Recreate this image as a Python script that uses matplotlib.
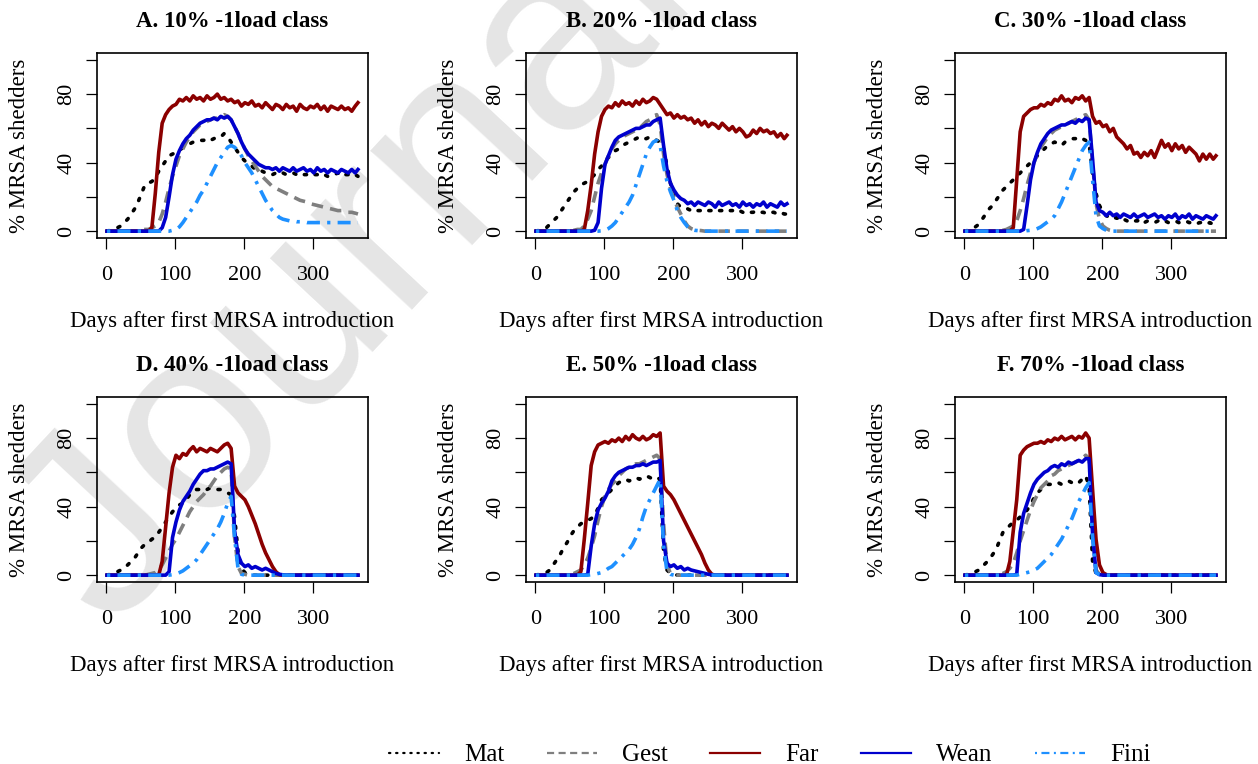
import matplotlib.pyplot as plt
from matplotlib.lines import Line2D

# day grid (every 5 days, plus the last day)
DAYS = list(range(1, 362, 5)) + [365]

TITLES = ["A. 10% -1load class", "B. 20% -1load class", "C. 30% -1load class",
          "D. 40% -1load class", "E. 50% -1load class", "F. 70% -1load class"]
SERIES_NAMES = ["Mat", "Gest", "Far", "Wean", "Fini"]
X_TICKS = [0, 100, 200, 300]
Y_TICKS = [0, 20, 40, 60, 80, 100]
Y_TICK_LABELS = ["0", "", "40", "", "80", ""]

# --- A. 10% ---
MAT_A = [0, 0.5, 1, 2, 3, 5, 7, 10, 13, 17, 22, 27, 28, 29, 31, 35, 38, 41, 44, 45,
         46, 47, 49, 50, 51, 52, 52, 53, 53, 54, 53, 54, 55, 55, 57, 55, 52, 49, 46, 43,
         41, 39, 38, 36, 35, 35, 34, 34, 33, 34, 33, 34, 33, 33, 34, 33, 34, 33, 33, 34,
         33, 33, 34, 33, 32, 33, 33, 34, 32, 33, 33, 32, 33, 32]
GEST_A = [0, 0, 0, 0, 0, 0, 0, 0, 0, 0, 0.5, 1, 1, 2, 3, 5, 10, 17, 25, 32,
          38, 44, 48, 52, 55, 58, 60, 62, 63, 64, 65, 66, 66, 67, 68, 67, 65, 61, 57, 52,
          48, 44, 41, 38, 35, 32, 30, 28, 26, 25, 24, 23, 22, 21, 20, 19, 18, 17.5, 17, 16,
          15.5, 15, 14.5, 14, 13.5, 13, 12.5, 12, 12, 11.5, 11, 11, 10.5, 10]
FAR_A = [0, 0, 0, 0, 0, 0, 0, 0, 0, 0, 0, 0, 0, 2, 22, 46, 63, 68, 71, 73,
         74, 77, 76, 78, 76, 79, 77, 78, 76, 79, 77, 78, 80, 77, 78, 76, 77, 75, 76, 73,
         75, 74, 76, 73, 74, 72, 75, 73, 71, 74, 73, 71, 74, 72, 73, 70, 74, 72, 71, 73,
         72, 74, 71, 73, 70, 73, 72, 71, 73, 71, 72, 70, 73, 75]
WEAN_A = [0, 0, 0, 0, 0, 0, 0, 0, 0, 0, 0, 0, 0, 0, 0, 0, 2, 8, 20, 33,
          42, 47, 51, 54, 56, 59, 61, 63, 64, 65, 65, 66, 65, 67, 66, 67, 65, 61, 57, 52,
          48, 45, 43, 41, 39, 38, 37, 37, 36, 37, 35, 37, 36, 35, 37, 35, 36, 37, 35, 36,
          34, 37, 35, 36, 34, 36, 35, 34, 36, 35, 34, 36, 34, 36]
FINI_A = [0, 0, 0, 0, 0, 0, 0, 0, 0, 0, 0, 0, 0, 0, 0, 0, 0, 0, 0, 0.5,
          1, 2.5, 5, 8, 11, 14, 17, 21, 24, 28, 32, 36, 40, 43, 46, 49, 50, 49, 47, 44,
          40, 37, 34, 30, 26, 22, 18, 15, 12, 10, 8, 7, 6.5, 6, 6, 5.5, 5.5, 5.5, 5, 5,
          5, 5, 5, 5, 5, 5, 5, 5, 5, 5, 5, 5, 5, 5]

# --- B. 20% ---
MAT_B = [0, 0.5, 1, 2, 4, 6, 8, 11, 14, 17, 20, 23, 25, 27, 28, 29, 31, 33, 36, 38,
         41, 43, 45, 47, 48, 50, 51, 52, 53, 54, 55, 54, 54, 55, 54, 53, 52, 48, 38, 28,
         20, 16, 14, 13, 13, 12, 13, 12, 12, 13, 12, 12, 11, 12, 12, 11, 12, 12, 11, 12,
         11, 12, 11, 11, 12, 11, 11, 10, 11, 11, 10, 11, 10, 10]
GEST_B = [0, 0, 0, 0, 0, 0, 0, 0, 0, 0, 0, 0.5, 1, 1, 3, 7, 12, 20, 28, 34,
          39, 44, 48, 51, 53, 55, 56, 57, 58, 59, 60, 62, 64, 65, 67, 68, 62, 45, 33, 25,
          19, 14, 10, 6, 3, 1.5, 0.8, 0.5, 0.3, 0, 0, 0, 0, 0, 0, 0, 0, 0, 0, 0,
          0, 0, 0, 0, 0, 0, 0, 0, 0, 0, 0, 0, 0, 0]
FAR_B = [0, 0, 0, 0, 0, 0, 0, 0, 0, 0, 0, 0, 0, 0, 1, 12, 27, 45, 58, 67,
         71, 73, 72, 75, 73, 76, 74, 75, 73, 76, 74, 77, 75, 76, 78, 77, 74, 71, 68, 69,
         66, 68, 66, 67, 65, 66, 63, 65, 62, 64, 61, 63, 62, 60, 63, 61, 59, 61, 58, 60,
         58, 55, 56, 59, 57, 60, 58, 59, 57, 58, 55, 57, 54, 56]
WEAN_B = [0, 0, 0, 0, 0, 0, 0, 0, 0, 0, 0, 0, 0, 0, 0, 0, 0, 0.5, 5, 25,
          39, 44, 49, 53, 55, 56, 57, 58, 59, 60, 60, 61, 62, 62, 64, 65, 66, 50, 36, 28,
          24, 21, 19, 18, 16, 17, 15, 17, 16, 15, 17, 16, 14, 17, 15, 16, 17, 15, 16, 14,
          17, 15, 16, 14, 16, 15, 17, 14, 16, 15, 14, 17, 15, 16]
FINI_B = [0, 0, 0, 0, 0, 0, 0, 0, 0, 0, 0, 0, 0, 0, 0, 0, 0, 0, 0, 0.2,
          0.5, 1.5, 3, 5, 8, 11, 14, 17, 21, 27, 33, 39, 45, 49, 52, 53, 50, 38, 29, 23,
          18, 12, 8, 5, 2.5, 1, 0.5, 0.3, 0, 0, 0, 0, 0, 0, 0, 0, 0, 0, 0, 0,
          0, 0, 0, 0, 0, 0, 0, 0, 0, 0, 0, 0, 0, 0]

# --- C. 30% ---
MAT_C = [0, 0.5, 1, 2.5, 4, 7, 10, 13, 15, 18, 21, 24, 26, 28, 30, 32, 34, 36, 38, 40,
         42, 44, 46, 48, 50, 51, 52, 51, 50, 52, 53, 54, 54, 55, 54, 53, 51, 34, 22, 15,
         11, 9, 8, 7, 8, 6, 7, 6, 7, 6, 6, 7, 5, 6, 6, 5, 6, 5, 6, 5,
         5, 6, 5, 5, 6, 5, 5, 4, 5, 5, 4, 5, 4, 5]
GEST_C = [0, 0, 0, 0, 0, 0, 0, 0, 0, 0, 0, 0.5, 1, 2, 3, 6, 12, 19, 27, 34,
          40, 45, 49, 52, 55, 57, 59, 60, 61, 62, 63, 64, 65, 66, 67, 68, 65, 40, 16, 7,
          3, 1.5, 0.5, 0, 0, 0, 0, 0, 0, 0, 0, 0, 0, 0, 0, 0, 0, 0, 0, 0,
          0, 0, 0, 0, 0, 0, 0, 0, 0, 0, 0, 0, 0, 0]
FAR_C = [0, 0, 0, 0, 0, 0, 0, 0, 0, 0, 0, 0, 0, 0, 2, 30, 58, 67, 69, 71,
         72, 72, 74, 73, 75, 74, 77, 76, 79, 76, 77, 75, 78, 77, 79, 76, 78, 67, 63, 64,
         61, 62, 58, 60, 55, 53, 51, 48, 50, 45, 46, 43, 46, 44, 47, 43, 48, 53, 49, 51,
         47, 51, 48, 50, 46, 49, 47, 45, 41, 45, 42, 45, 42, 44]
WEAN_C = [0, 0, 0, 0, 0, 0, 0, 0, 0, 0, 0, 0, 0, 0, 0, 0, 0, 1, 15, 30,
          40, 46, 51, 54, 57, 59, 60, 61, 62, 62, 63, 64, 63, 65, 64, 66, 65, 42, 17, 12,
          11, 9, 11, 9, 10, 8, 10, 9, 8, 10, 8, 9, 10, 8, 9, 10, 8, 9, 7, 9,
          8, 10, 7, 9, 8, 10, 7, 9, 8, 7, 9, 8, 7, 9]
FINI_C = [0, 0, 0, 0, 0, 0, 0, 0, 0, 0, 0, 0, 0, 0, 0, 0, 0, 0, 0.3, 0.5,
          0.7, 1.5, 2.5, 4, 5.5, 7, 9, 13, 17, 22, 27, 32, 37, 42, 47, 50, 52, 30, 9, 3,
          1.5, 0.5, 0, 0, 0, 0, 0, 0, 0, 0, 0, 0, 0, 0, 0, 0, 0, 0, 0, 0,
          0, 0, 0, 0, 0, 0, 0, 0, 0, 0, 0, 0, 0, 0]

# --- D. 40% ---
MAT_D = [0, 0.5, 1, 2, 3, 4, 6, 8, 10, 13, 16, 18, 19, 21, 22, 25, 28, 31, 34, 37,
         39, 41, 42, 44, 47, 49, 50, 50, 51, 50, 51, 51, 50, 50, 49, 48, 47, 34, 14, 4,
         1.5, 0.5, 0, 0, 0, 0, 0, 0, 0, 0, 0, 0, 0, 0, 0, 0, 0, 0, 0, 0,
         0, 0, 0, 0, 0, 0, 0, 0, 0, 0, 0, 0, 0, 0]
GEST_D = [0, 0, 0, 0, 0, 0, 0, 0, 0, 0, 0, 0, 0.5, 1, 1.5, 3, 6, 10, 14, 18,
          21, 25, 29, 33, 37, 40, 43, 45, 47, 50, 52, 55, 58, 60, 62, 63, 62, 22, 5, 1,
          0.5, 0, 0, 0, 0, 0, 0, 0, 0, 0, 0, 0, 0, 0, 0, 0, 0, 0, 0, 0,
          0, 0, 0, 0, 0, 0, 0, 0, 0, 0, 0, 0, 0, 0]
FAR_D = [0, 0, 0, 0, 0, 0, 0, 0, 0, 0, 0, 0, 0, 0, 0, 0, 8, 28, 48, 63,
         70, 68, 71, 70, 73, 75, 72, 74, 73, 72, 74, 73, 72, 74, 76, 77, 74, 52, 48, 46,
         44, 40, 35, 30, 24, 18, 13, 9, 5, 2, 0.3, 0, 0, 0, 0, 0, 0, 0, 0, 0,
         0, 0, 0, 0, 0, 0, 0, 0, 0, 0, 0, 0, 0, 0]
WEAN_D = [0, 0, 0, 0, 0, 0, 0, 0, 0, 0, 0, 0, 0, 0, 0, 0, 0, 0, 2, 22,
          31, 38, 43, 46, 49, 53, 56, 59, 61, 61, 62, 62, 63, 64, 65, 66, 65, 26, 12, 7,
          5, 6, 4, 5, 4, 3, 4, 3, 2, 1, 0.5, 0.2, 0, 0, 0, 0, 0, 0, 0, 0,
          0, 0, 0, 0, 0, 0, 0, 0, 0, 0, 0, 0, 0, 0]
FINI_D = [0, 0, 0, 0, 0, 0, 0, 0, 0, 0, 0, 0, 0, 0, 0, 0, 0, 0, 0, 0.3,
          0.7, 1.5, 2.5, 4, 5.5, 7, 9, 12, 15, 18, 21, 24, 27, 31, 36, 42, 46, 22, 4, 0.5,
          0, 0, 0, 0, 0, 0, 0, 0, 0, 0, 0, 0, 0, 0, 0, 0, 0, 0, 0, 0,
          0, 0, 0, 0, 0, 0, 0, 0, 0, 0, 0, 0, 0, 0]

# --- E. 50% ---
MAT_E = [0, 0.5, 1, 1.5, 3, 6, 9, 12, 16, 19, 23, 26, 28, 30, 31, 32, 33, 35, 39, 44,
         46, 48, 50, 52, 54, 55, 56, 55, 56, 57, 56, 57, 58, 57, 56, 57, 56, 14, 3, 1,
         0.5, 0, 0, 0, 0, 0, 0, 0, 0, 0, 0, 0, 0, 0, 0, 0, 0, 0, 0, 0,
         0, 0, 0, 0, 0, 0, 0, 0, 0, 0, 0, 0, 0, 0]
GEST_E = [0, 0, 0, 0, 0, 0, 0, 0, 0, 0, 0.5, 1, 2, 3, 6, 10, 16, 23, 32, 40,
          46, 50, 53, 55, 58, 60, 62, 63, 64, 65, 65, 66, 67, 68, 69, 70, 68, 30, 6, 1,
          0.3, 0, 0, 0, 0, 0, 0, 0, 0, 0, 0, 0, 0, 0, 0, 0, 0, 0, 0, 0,
          0, 0, 0, 0, 0, 0, 0, 0, 0, 0, 0, 0, 0, 0]
FAR_E = [0, 0, 0, 0, 0, 0, 0, 0, 0, 0, 0, 0, 0, 2, 21, 42, 64, 72, 76, 77,
         78, 77, 79, 78, 80, 78, 81, 79, 82, 80, 79, 81, 79, 80, 82, 81, 83, 52, 49, 47,
         44, 40, 36, 32, 28, 24, 20, 16, 12, 7, 3, 0.5, 0, 0, 0, 0, 0, 0, 0, 0,
         0, 0, 0, 0, 0, 0, 0, 0, 0, 0, 0, 0, 0, 0]
WEAN_E = [0, 0, 0, 0, 0, 0, 0, 0, 0, 0, 0, 0, 0, 0, 0, 0.5, 17, 30, 38, 42,
          45, 49, 55, 58, 60, 61, 62, 63, 63, 64, 64, 65, 64, 65, 66, 66, 67, 20, 7, 5,
          6, 4, 5, 3, 4, 3, 2.5, 2, 1.5, 1, 0.5, 0.2, 0, 0, 0, 0, 0, 0, 0, 0,
          0, 0, 0, 0, 0, 0, 0, 0, 0, 0, 0, 0, 0, 0]
FINI_E = [0, 0, 0, 0, 0, 0, 0, 0, 0, 0, 0, 0, 0, 0, 0, 0, 0.3, 0.5, 1, 1.5,
          2.5, 4, 5, 7, 9, 11, 13, 15, 18, 22, 27, 34, 40, 44, 48, 52, 56, 17, 2, 0.5,
          0, 0, 0, 0, 0, 0, 0, 0, 0, 0, 0, 0, 0, 0, 0, 0, 0, 0, 0, 0,
          0, 0, 0, 0, 0, 0, 0, 0, 0, 0, 0, 0, 0, 0]

# --- F. 70% ---
MAT_F = [0, 0.5, 1, 2, 3, 5, 7, 9, 12, 15, 20, 25, 27, 29, 31, 32, 34, 36, 38, 41,
         45, 48, 50, 52, 53, 53, 54, 54, 53, 54, 55, 54, 55, 54, 56, 58, 52, 8, 1, 0.3,
         0, 0, 0, 0, 0, 0, 0, 0, 0, 0, 0, 0, 0, 0, 0, 0, 0, 0, 0, 0,
         0, 0, 0, 0, 0, 0, 0, 0, 0, 0, 0, 0, 0, 0]
GEST_F = [0, 0, 0, 0, 0, 0, 0, 0, 0, 0, 0.5, 1, 2, 4, 7, 13, 20, 26, 32, 38,
          43, 47, 51, 53, 55, 58, 59, 61, 62, 63, 64, 65, 66, 67, 68, 70, 68, 28, 3, 0.5,
          0, 0, 0, 0, 0, 0, 0, 0, 0, 0, 0, 0, 0, 0, 0, 0, 0, 0, 0, 0,
          0, 0, 0, 0, 0, 0, 0, 0, 0, 0, 0, 0, 0, 0]
FAR_F = [0, 0, 0, 0, 0, 0, 0, 0, 0, 0, 0, 0, 0, 8, 26, 44, 70, 73, 75, 76,
         77, 77, 78, 77, 79, 78, 80, 79, 81, 79, 80, 81, 79, 81, 80, 83, 80, 50, 21, 6,
         1.5, 0.3, 0, 0, 0, 0, 0, 0, 0, 0, 0, 0, 0, 0, 0, 0, 0, 0, 0, 0,
         0, 0, 0, 0, 0, 0, 0, 0, 0, 0, 0, 0, 0, 0]
WEAN_F = [0, 0, 0, 0, 0, 0, 0, 0, 0, 0, 0, 0, 0, 0, 0, 0.5, 25, 36, 42, 48,
          53, 56, 58, 60, 61, 63, 64, 63, 65, 64, 66, 65, 66, 67, 66, 68, 68, 24, 1.5, 0.3,
          0, 0, 0, 0, 0, 0, 0, 0, 0, 0, 0, 0, 0, 0, 0, 0, 0, 0, 0, 0,
          0, 0, 0, 0, 0, 0, 0, 0, 0, 0, 0, 0, 0, 0]
FINI_F = [0, 0, 0, 0, 0, 0, 0, 0, 0, 0, 0, 0, 0, 0, 0, 0, 0.5, 1, 1.5, 2,
          3, 4, 6, 8, 10, 12, 15, 18, 21, 25, 29, 33, 38, 43, 47, 51, 54, 22, 1.5, 0.3,
          0, 0, 0, 0, 0, 0, 0, 0, 0, 0, 0, 0, 0, 0, 0, 0, 0, 0, 0, 0,
          0, 0, 0, 0, 0, 0, 0, 0, 0, 0, 0, 0, 0, 0]

PANELS = [
    (MAT_A, GEST_A, FAR_A, WEAN_A, FINI_A),
    (MAT_B, GEST_B, FAR_B, WEAN_B, FINI_B),
    (MAT_C, GEST_C, FAR_C, WEAN_C, FINI_C),
    (MAT_D, GEST_D, FAR_D, WEAN_D, FINI_D),
    (MAT_E, GEST_E, FAR_E, WEAN_E, FINI_E),
    (MAT_F, GEST_F, FAR_F, WEAN_F, FINI_F),
]

# line styles like R: lty 3, 2, 1, 1, 4
STYLES = [
    dict(color="black", linestyle=(0, (0.6, 2.6)), dash_capstyle="round"),
    dict(color="#7f7f7f", linestyle=(0, (3.2, 2.0))),
    dict(color="#8b0000", linestyle="-"),
    dict(color="#0000cd", linestyle="-"),
    dict(color="#1e90ff", linestyle=(0, (0.9, 2.0, 3.6, 2.0))),
]

W, H = 1258, 764
plt.rcParams["font.family"] = ["Liberation Serif", "DejaVu Serif"]

fig = plt.figure(figsize=(W / 100, H / 100), dpi=100)
fig.patch.set_facecolor("white")

# watermark behind everything
fig.text(110 / W, 1 - 630 / H, "Journal", rotation=47, rotation_mode="anchor",
         ha="left", va="baseline", fontsize=190, color="#e5e5e5",
         family="Liberation Sans", zorder=-10)

BOX_LEFT = [97, 526, 955]
BOX_TOP = [53, 397]
BOX_W, BOX_H = 271, 185

for k, series in enumerate(PANELS):
    row, col = divmod(k, 3)
    left = BOX_LEFT[col] / W
    bottom = 1 - (BOX_TOP[row] + BOX_H) / H
    ax = fig.add_axes([left, bottom, BOX_W / W, BOX_H / H])
    ax.set_facecolor("none")

    for vals, st in zip(series, STYLES):
        ax.plot(DAYS, vals, linewidth=2.6, **st)

    ax.set_xlim(-13.56, 379.56)
    ax.set_ylim(-4, 104)
    ax.set_xticks(X_TICKS)
    ax.set_yticks(Y_TICKS)
    ax.set_yticklabels(Y_TICK_LABELS, rotation=90, va="center")
    ax.tick_params(direction="out", length=8, width=0.9, labelsize=16)
    ax.tick_params(axis="x", pad=12)
    ax.tick_params(axis="y", pad=7)
    for sp in ax.spines.values():
        sp.set_linewidth(1.2)

    ax.set_title(TITLES[k], fontsize=16.5, fontweight="bold", y=1.17, pad=0,
                 va="center")
    ax.set_xlabel("Days after first MRSA introduction", fontsize=16.5, va="center")
    ax.xaxis.set_label_coords(0.5, -0.45)
    ax.set_ylabel("% MRSA shedders", fontsize=16.5, va="center", ha="center")
    ax.yaxis.set_label_coords(-0.285, 0.5)

handles = [Line2D([], [], linewidth=1.6, **st) for st in STYLES]
fig.legend(handles, SERIES_NAMES, loc="center", bbox_to_anchor=(770 / W, 1 - 755 / H),
           ncol=5, frameon=False, fontsize=18, handlelength=2.0, handletextpad=1.0,
           columnspacing=1.7)

fig.savefig("out.png", dpi=100, facecolor="white")
